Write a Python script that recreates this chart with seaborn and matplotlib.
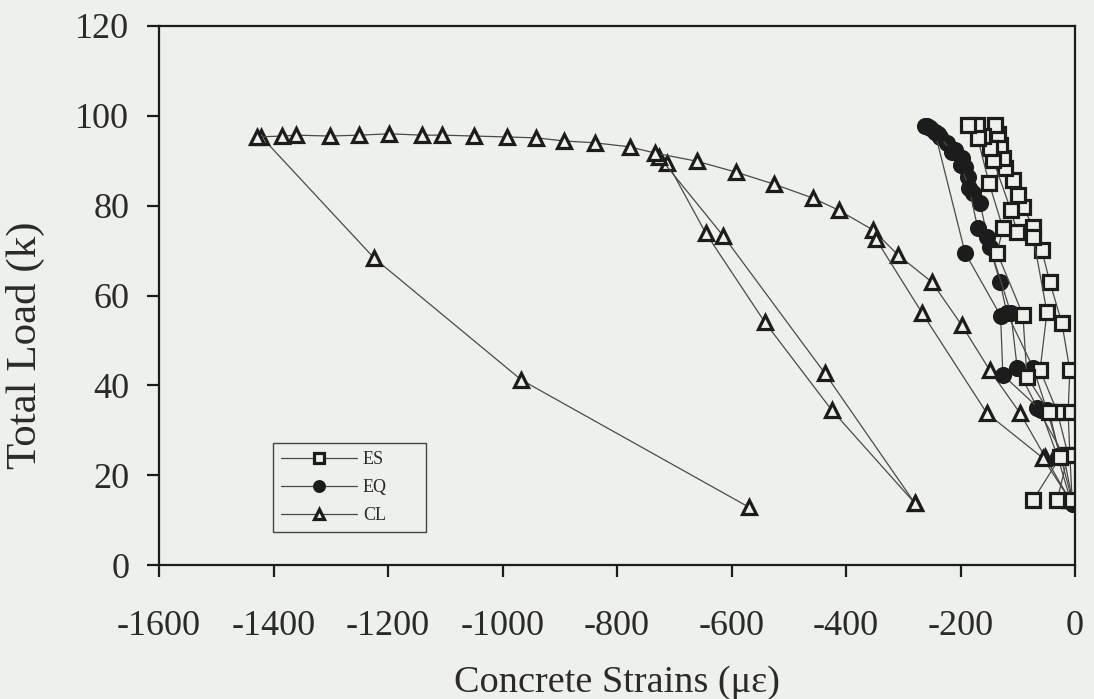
import matplotlib
matplotlib.use("Agg")
import matplotlib.pyplot as plt
import seaborn as sns
import pandas as pd

# ---------------- data (strain in micro-strain, load in kips) ----------------
# ES gauges (open squares)
es1_x = [-5, -9, -12, -9, -23, -44, -58, -73, -91, -100, -108, -122, -126, -131, -135, -140]
es1_y = [14.5, 24.5, 34.1, 43.4, 53.9, 63.0, 70.1, 75.3, 79.7, 82.4, 85.7, 88.4, 90.6, 93.5, 96.0, 98.0]
es2_x = [-31, -12, -31, -61, -49, -73, -101, -112, -143, -149, -160, -172]
es2_y = [14.5, 24.5, 34.1, 43.4, 56.3, 73.0, 74.1, 79.0, 90.2, 92.8, 95.5, 98.0]
es3_x = [-73, -26, -45, -84, -91, -136, -126, -150, -170, -187]
es3_y = [14.5, 24.0, 34.1, 41.9, 55.7, 69.5, 75.0, 85.0, 95.0, 98.0]

# EQ gauges (filled circles)
eq1_x = [-3, -26, -49, -73, -119, -131, -149, -166, -178, -187, -192, -198, -210, -224, -236, -253]
eq1_y = [13.5, 24.5, 34.5, 43.9, 56.1, 63.0, 70.8, 80.6, 82.8, 86.4, 88.6, 90.6, 92.4, 94.0, 95.3, 97.3]
eq2_x = [-3, -20, -66, -101, -112, -154, -170, -185, -200, -215, -240, -258]
eq2_y = [13.5, 24.5, 35.0, 43.9, 56.1, 73.0, 75.0, 84.0, 89.0, 92.0, 96.0, 97.8]
eq3_x = [-8, -30, -60, -126, -130, -192, -245, -262]
eq3_y = [14.5, 24.0, 34.5, 42.3, 55.5, 69.5, 96.5, 97.8]

# CL gauges (open triangles)
cl1_x = [-570, -967, -1224, -1421]
cl1_y = [12.9, 41.2, 68.3, 95.3]
cl2_x = [-280, -425, -542, -645, -712]
cl2_y = [13.8, 34.5, 54.1, 73.9, 89.5]
cl3_x = [-280, -437, -614, -726]
cl3_y = [13.8, 42.7, 73.2, 90.8]
cl4_x = [-9, -52, -96, -149, -198, -250, -309, -353, -413, -458, -526, -593, -661,
         -733, -778, -839, -892, -941, -993, -1049, -1105, -1140, -1198, -1250,
         -1302, -1360, -1385, -1428]
cl4_y = [14.5, 24.0, 33.8, 43.4, 53.4, 63.0, 69.0, 74.6, 79.0, 81.7, 84.8, 87.5, 89.9,
         91.7, 93.1, 94.0, 94.4, 95.1, 95.3, 95.5, 95.7, 95.7, 96.0, 95.7,
         95.5, 95.7, 95.5, 95.3]
cl5_x = [-9, -56, -154, -267, -348]
cl5_y = [14.5, 23.8, 33.8, 56.1, 72.6]

series_names = ["ES", "EQ", "CL"]
x_ticks = [-1600, -1400, -1200, -1000, -800, -600, -400, -200, 0]
y_ticks = [0, 20, 40, 60, 80, 100, 120]

gauges = {
    "ES": [(es1_x, es1_y), (es2_x, es2_y), (es3_x, es3_y)],
    "EQ": [(eq1_x, eq1_y), (eq2_x, eq2_y), (eq3_x, eq3_y)],
    "CL": [(cl1_x, cl1_y), (cl2_x, cl2_y), (cl3_x, cl3_y), (cl4_x, cl4_y), (cl5_x, cl5_y)],
}

rows = []
for t, glist in gauges.items():
    for gi, (xs, ys) in enumerate(glist):
        for k, (xv, yv) in enumerate(zip(xs, ys)):
            rows.append({"type": t, "gauge": f"{t}{gi}", "order": k, "strain": xv, "load": yv})
df = pd.DataFrame(rows)

# ---------------- styling ----------------
BG = "#eef0ec"
INK = "#1c1c1c"
sns.set_style("ticks")
plt.rcParams["font.family"] = ["Liberation Serif", "DejaVu Serif"]
plt.rcParams["axes.unicode_minus"] = False

fig = plt.figure(figsize=(10.94, 6.99), dpi=100, facecolor=BG)
ax = fig.add_axes([159 / 1094, 1 - 565 / 699, (1075 - 159) / 1094, (565 - 26) / 699])
ax.set_facecolor(BG)

styles = {
    "CL": dict(marker="^", markerfacecolor=BG),
    "EQ": dict(marker="o", markerfacecolor=INK),
    "ES": dict(marker="s", markerfacecolor=BG),
}
handles = {}
for t in ["CL", "EQ", "ES"]:
    n0 = len(ax.lines)
    sub = df[df["type"] == t]
    sns.lineplot(data=sub, x="strain", y="load", units="gauge", estimator=None,
                 sort=False, ax=ax, legend=False, color="#4a4a4a", linewidth=0.9,
                 markersize=10, markeredgecolor=INK, markeredgewidth=2.3,
                 **styles[t])
    handles[t] = ax.lines[n0]

ax.set_xlim(-1600, 0)
ax.set_ylim(0, 120)
ax.set_xticks(x_ticks)
ax.set_yticks(y_ticks)
ax.set_xticklabels([str(v) for v in x_ticks])
ax.set_yticklabels([str(v) for v in y_ticks])

for s in ax.spines.values():
    s.set_linewidth(1.6)
    s.set_color(INK)
ax.tick_params(axis="both", direction="out", length=8.5, width=1.6, colors=INK,
               labelsize=26, labelcolor="#2a2a2a")
ax.tick_params(axis="x", pad=24)
ax.tick_params(axis="y", pad=13)

ax.set_xlabel("Concrete Strains (\u03bc\u03b5)", fontsize=27.5, color="#2a2a2a")
ax.set_ylabel("Total Load (k)", fontsize=31, color="#2a2a2a")
ax.xaxis.set_label_coords(0.5, -0.186)
ax.yaxis.set_label_coords(-0.1245, 0.408)

leg = ax.legend([handles[n] for n in series_names], series_names,
                loc="lower left", bbox_to_anchor=(0.124, 0.061, 0.168, 0.18),
                mode="expand", borderaxespad=0, fontsize=13, handlelength=4.2,
                handletextpad=0.35, labelspacing=0.6, borderpad=0.45,
                markerscale=0.7, fancybox=False, framealpha=1, facecolor=BG,
                edgecolor="#444444", labelcolor="#2a2a2a")
leg.get_frame().set_linewidth(1.0)

fig.savefig("out.png", dpi=100, facecolor=BG)
